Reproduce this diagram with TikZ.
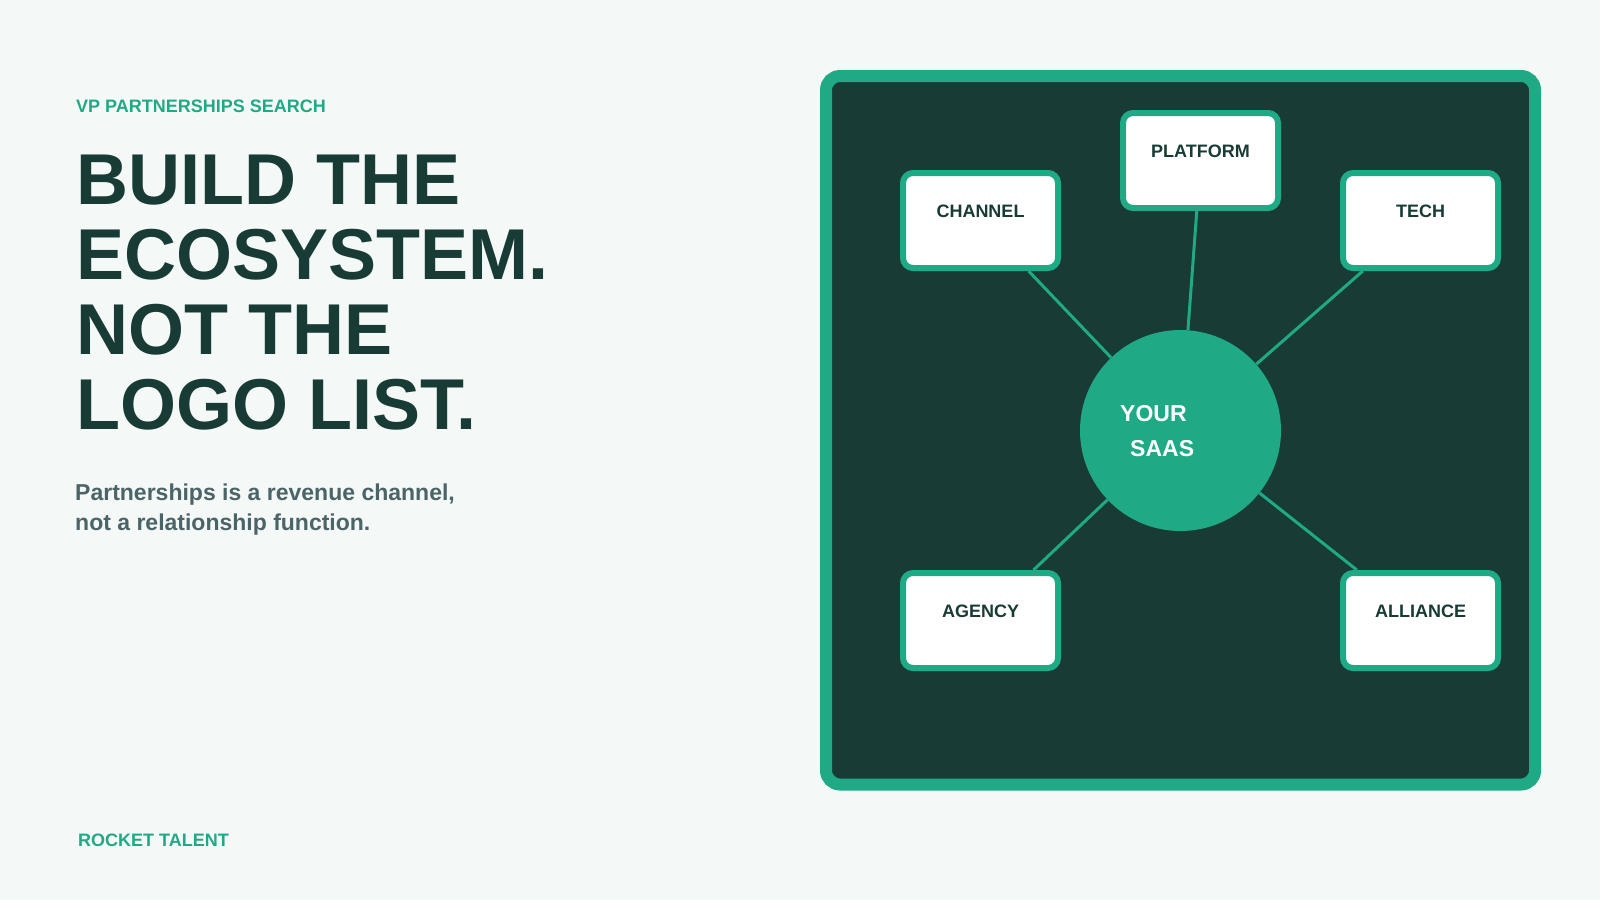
\documentclass[tikz,border=0pt]{standalone}
\usepackage{fontspec}
\setmainfont{Liberation Sans}
\definecolor{pagebg}{HTML}{F4F9F7}
\definecolor{sgreen}{HTML}{1FAA85}
\definecolor{sdark}{HTML}{183B35}
\definecolor{sgray}{HTML}{4B6468}

\tikzset{
  partbox/.style={draw=sgreen, fill=white, line width=6pt, rounded corners=10pt,
    minimum width=155pt, minimum height=95pt, inner sep=0pt,
    font=\fontsize{18}{20}\selectfont\bfseries, text=sdark,
    text height=14pt, text depth=20pt},
  spoke/.style={draw=sgreen, line width=3pt},
  copy/.style={inner sep=0pt, align=left},
}

\begin{document}
\begin{tikzpicture}[x=1pt, y=-1pt]
\fill[pagebg] (0,0) rectangle (1600,900);
\useasboundingbox (0,0) rectangle (1600,900);

% left column
\node[copy, anchor=base west, text=sgreen, font=\fontsize{18}{20}\selectfont\bfseries] (kicker) at (76,112.3) {VP PARTNERSHIPS SEARCH};
\node[copy, anchor=north west, text=sdark, font=\fontsize{72}{75}\selectfont\bfseries] (title) at (76,155.1) {BUILD THE\\ECOSYSTEM.\\NOT THE\\LOGO LIST.};
\node[copy, anchor=north west, text=sgray, font=\fontsize{23}{30}\selectfont\bfseries] (sub) at (75,484) {Partnerships is a revenue channel,\\not a relationship function.};
\node[copy, anchor=base west, text=sgreen, font=\fontsize{18}{20}\selectfont\bfseries] (brand) at (78,846.7) {ROCKET TALENT};

% panel
\draw[line width=12pt, rounded corners=14pt, draw=sgreen, fill=sdark] (826,76) rectangle (1535,784.5);

% ecosystem
\node[circle, fill=sgreen, minimum size=201pt, inner sep=0pt] (hub) at (1180.5,430.5) {};
\node[partbox] (channel) at (980.5,220.5) {CHANNEL};
\node[partbox] (platform) at (1200.5,160.5) {PLATFORM};
\node[partbox] (tech) at (1420.5,220.5) {TECH};
\node[partbox] (agency) at (980.5,620.5) {AGENCY};
\node[partbox] (alliance) at (1420.5,620.5) {ALLIANCE};
\foreach \n in {channel,platform,tech,agency,alliance}
  \draw[spoke] (hub) -- (\n);
\node[copy, anchor=north west, text=white, font=\fontsize{23}{35}\selectfont\bfseries] (hubtext) at (1120,405) {YOUR\\\hspace*{10pt}SAAS};
\end{tikzpicture}
\end{document}
